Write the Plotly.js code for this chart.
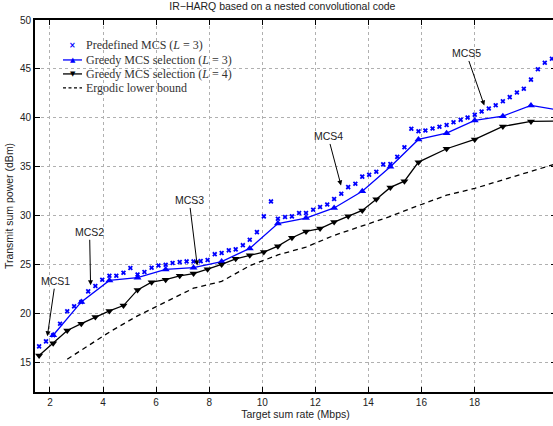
<!DOCTYPE html>
<html>
<head>
<meta charset="utf-8">
<script src="https://cdn.plot.ly/plotly-3.0.1.min.js"></script>
<style>
html,body{margin:0;padding:0;overflow:hidden;background:#fff;width:553px;height:426px;}
#chart{width:558px;height:426px;}
</style>
</head>
<body>
<div id="chart"></div>
<script>
// Predefined MCS (L = 3)
const predX = [1.59,1.85,2.12,2.38,2.65,2.91,3.18,3.44,3.71,3.97,4.24,4.50,4.77,5.03,5.30,5.56,5.83,6.09,6.36,6.62,6.89,7.15,7.41,7.68,7.94,8.21,8.47,8.74,9.00,9.27,9.53,9.80,10.06,10.33,10.59,10.86,11.12,11.39,11.65,11.92,12.18,12.45,12.71,12.98,13.24,13.51,13.77,14.03,14.30,14.56,14.83,15.09,15.36,15.62,15.89,16.15,16.42,16.68,16.95,17.21,17.48,17.74,18.01,18.27,18.54,18.80,19.07,19.33,19.60,19.86,20.13,20.39,20.65,20.92];
const predY = [16.66,17.17,17.8,18.98,20.24,20.75,21.2,22.28,22.82,23.47,23.88,23.88,24.19,24.66,24.0,24.25,24.7,24.93,25.0,25.17,25.27,25.34,25.34,25.37,25.48,26.08,26.2,26.47,26.57,27.0,27.55,28.33,29.94,31.47,29.7,29.87,29.94,30.28,30.28,30.62,30.89,31.16,31.72,32.25,32.93,33.27,34.0,34.19,34.5,35.25,35.28,36.02,37.01,38.89,38.63,38.72,38.92,39.1,39.28,39.56,39.8,40.03,40.32,40.65,40.96,41.3,41.7,42.12,42.6,42.97,43.91,44.97,45.63,46.04];
// Greedy MCS selection (L = 3)
const g3X = [2.12,3.18,4.24,5.30,6.36,7.41,8.47,9.53,10.59,11.65,12.71,13.77,14.83,15.89,16.95,18.01,19.07,20.13,21.18];
const g3Y = [17.8,21.2,23.4,23.68,24.52,24.7,25.33,26.67,29.2,29.77,30.8,32.5,35.0,37.8,38.44,39.74,40.18,41.27,40.8];
// Greedy MCS selection (L = 4)
const g4X = [1.59,2.12,2.65,3.18,3.71,4.24,4.77,5.30,5.83,6.36,6.89,7.41,7.94,8.47,9.00,9.53,10.06,10.59,11.12,11.65,12.18,12.71,13.24,13.77,14.30,14.83,15.36,15.89,16.95,18.01,19.07,20.13,21.18];
const g4Y = [15.74,16.97,18.28,18.98,19.65,20.28,20.83,22.43,23.22,23.47,23.87,24.1,24.55,25.03,25.6,25.97,26.3,26.9,27.76,28.4,28.7,29.36,29.95,30.55,31.7,32.9,33.54,35.48,36.85,37.8,39.13,39.64,39.68];
// Ergodic lower bound
const ergX = [2.65,3.18,3.71,4.24,5.30,6.36,7.41,8.47,9.53,10.59,11.65,12.71,13.77,14.83,15.89,16.95,18.01,19.07,20.13,21.18];
const ergY = [15.35,16.25,17.18,18.12,19.78,21.2,22.6,23.3,24.9,26.0,26.8,28.0,29.0,29.94,31.05,32.1,32.8,33.68,34.56,35.4];
// Series names / legend
const seriesNames = ['Predefined MCS (<i>L</i> = 3)', 'Greedy MCS selection (<i>L</i> = 3)',
                     'Greedy MCS selection (<i>L</i> = 4)', 'Ergodic lower bound'];
// Annotations
const mcsLabels = ["MCS1","MCS2","MCS3","MCS4","MCS5"];
const mcsX = [1.9,3.53,7.55,12.97,18.37];
const mcsY = [17.7,22.9,24.93,33.1,41.27];
const mcsAx = [8,-1,-8,-13,-18];
const mcsAy = [-55,-53,-65,-49,-52];

const xTicks = [2,4,6,8,10,12,14,16,18];
const yTicks = [15,20,25,30,35,40,45,50];

const BLUE = '#0000ff', BLACK = '#000000';
const colors = [BLUE, BLUE, BLACK, BLACK];

const traces = [
  {x: predX, y: predY, mode: 'markers', name: seriesNames[0],
   marker: {symbol: 'x', size: 4.5, color: BLUE, line: {width: 0}}},
  {x: g3X, y: g3Y, mode: 'lines+markers', name: seriesNames[1],
   line: {color: BLUE, width: 1.3}, marker: {symbol: 'triangle-up', size: 7, color: BLUE}},
  {x: g4X, y: g4Y, mode: 'lines+markers', name: seriesNames[2],
   line: {color: BLACK, width: 1.3}, marker: {symbol: 'triangle-down', size: 7, color: BLACK}},
  {x: ergX, y: ergY, mode: 'lines', name: seriesNames[3],
   line: {color: BLACK, width: 1.3, dash: '5px,4px'}}
];

const FONT = 'Liberation Sans, Arial, sans-serif';
const annotations = mcsLabels.map((t, i) => ({
  x: mcsX[i], y: mcsY[i], xref: 'x', yref: 'y', text: t, showarrow: true,
  ax: mcsAx[i], ay: mcsAy[i], arrowhead: 2, arrowsize: 1, arrowwidth: 1, arrowcolor: '#000',
  standoff: 0, startstandoff: 0,
  font: {family: FONT, size: 10.5, color: '#222'}
}));

// compact legend (MATLAB style), positioned in pixel terms of the plot area
const L = 35, PW = 521, T = 19.5, PH = 372.5;
const px = v => (v - L) / PW;
const py = v => 1 - (v - T) / PH;
const legRows = [45, 59.5, 73.5, 87.5];
const shapes = [];
const legGlyph = ['\u00d7', '\u25b2', '\u25bc', ''];
seriesNames.forEach((nm, i) => {
  annotations.push({xref: 'paper', yref: 'paper', x: px(84), y: py(legRows[i]), xanchor: 'left', yanchor: 'middle',
    text: nm, showarrow: false, font: {family: 'Liberation Serif, DejaVu Serif, serif', size: 12, color: '#333'}});
  if (i > 0) {
    shapes.push({type: 'line', xref: 'paper', yref: 'paper', x0: px(63), x1: px(82), y0: py(legRows[i]), y1: py(legRows[i]),
      line: {color: colors[i], width: 1.3, dash: i === 3 ? '3px,2.5px' : 'solid'}});
  }
  if (legGlyph[i]) {
    annotations.push({xref: 'paper', yref: 'paper', x: px(72.5), y: py(legRows[i] + (i === 0 ? 0.5 : 0)), xanchor: 'center', yanchor: 'middle',
      text: i === 0 ? '<b>' + legGlyph[i] + '</b>' : legGlyph[i], showarrow: false,
      font: {family: 'DejaVu Sans, sans-serif', size: i === 0 ? 8 : 7, color: colors[i]}});
  }
});

const axisCommon = {
  showline: true, linecolor: '#000', linewidth: 1.8, mirror: 'ticks',
  ticks: 'inside', ticklen: 5, tickwidth: 1, tickcolor: '#000',
  showgrid: true, gridcolor: '#b0b0b0', gridwidth: 1, griddash: 'dot',
  zeroline: false, tickfont: {family: FONT, size: 10, color: '#222'}
};

const layout = {
  width: 558, height: 426,
  margin: {l: 35, r: 2, t: 19.5, b: 34},
  paper_bgcolor: '#fff', plot_bgcolor: '#fff',
  showlegend: false,
  title: {text: 'IR\u2212HARQ based on a nested convolutional code', xref: 'container', yref: 'container',
          x: 0.506, y: 0.986, xanchor: 'center', yanchor: 'middle',
          font: {family: FONT, size: 10.5, color: '#222'}},
  xaxis: Object.assign({}, axisCommon, {range: [1.435, 21.073], tickvals: xTicks,
          title: {text: 'Target sum rate (Mbps)', standoff: 2, font: {family: FONT, size: 10.5, color: '#222'}}}),
  yaxis: Object.assign({}, axisCommon, {range: [12, 50], tickvals: yTicks,
          title: {text: 'Transmit sum power (dBm)', standoff: 4, font: {family: FONT, size: 10.5, color: '#222'}}}),
  annotations: annotations,
  shapes: shapes
};

Plotly.newPlot('chart', traces, layout, {displayModeBar: false, staticPlot: true});
</script>
</body>
</html>
